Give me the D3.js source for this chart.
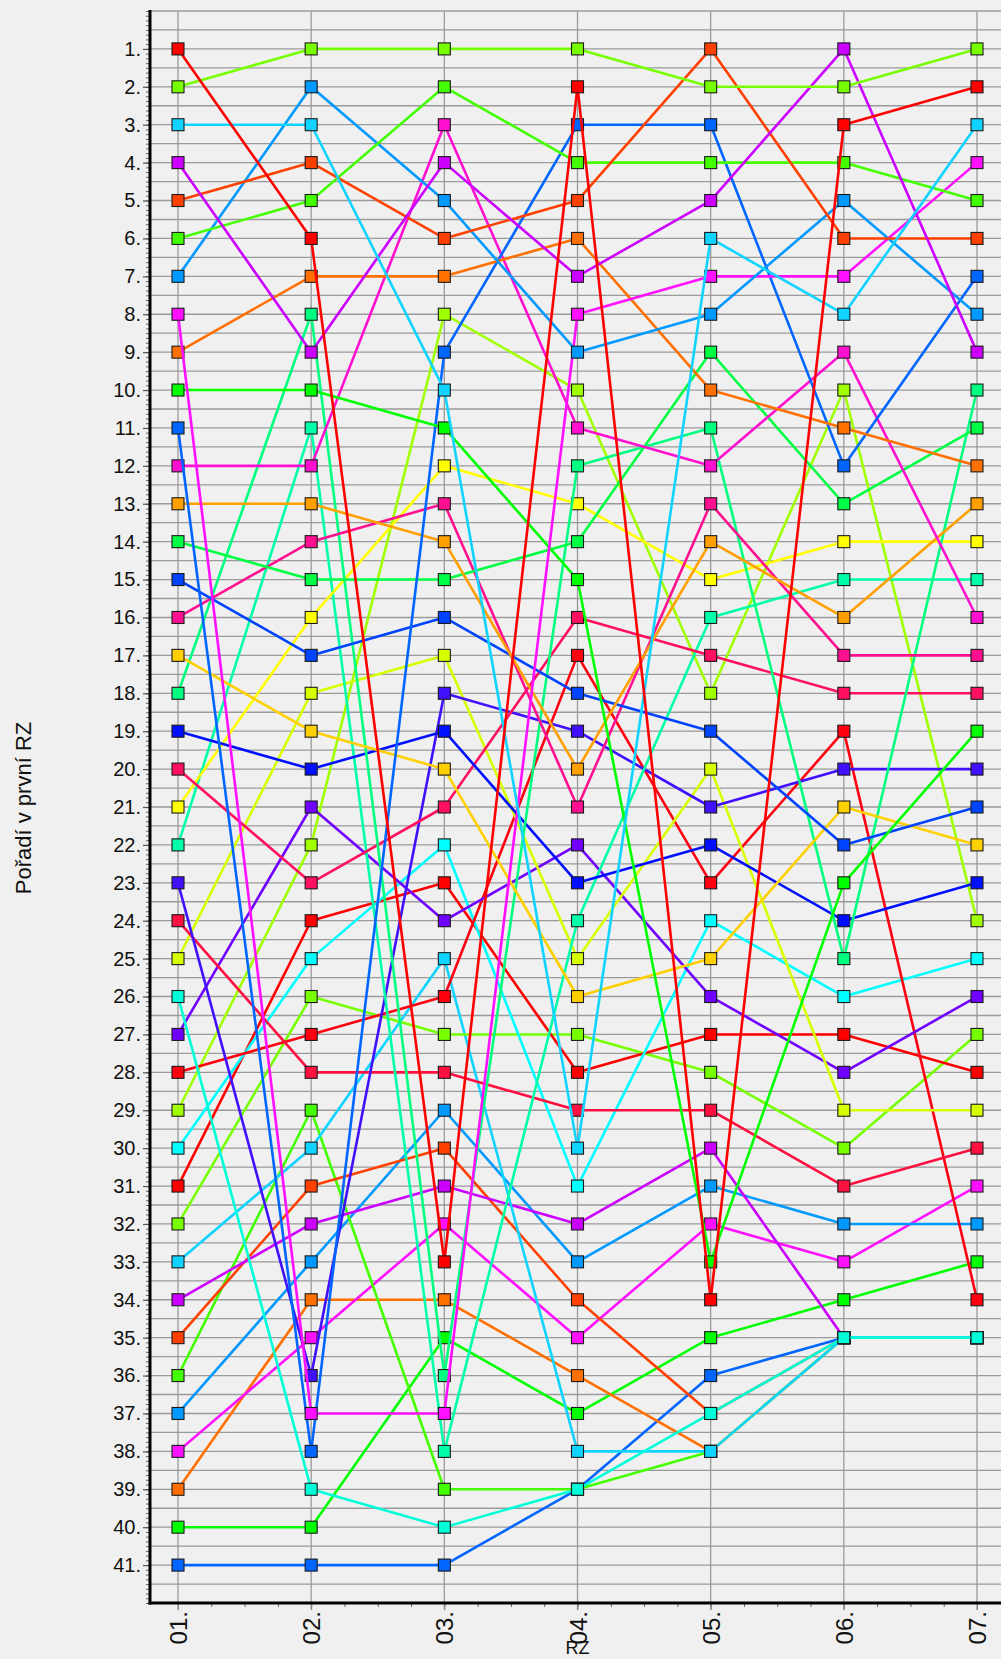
<!DOCTYPE html>
<html>
<head>
<meta charset="utf-8">
<script src="https://cdn.jsdelivr.net/npm/d3@7"></script>
<style>
  html, body { margin: 0; padding: 0; background: #f0f0f0; }
  svg { display: block; font-family: "Liberation Sans", Arial, sans-serif; }
</style>
</head>
<body>
<svg id="chart" width="1001" height="1659"></svg>
<script>
// ---- data ----
const stages = ["01.", "02.", "03.", "04.", "05.", "06.", "07."];
const rankLabels = d3.range(1, 42).map(d => d + ".");
// rank of each crew (ordered by position after first stage) after each stage
const rank01 = [1,2,3,4,5,6,7,8,9,10,11,12,13,14,15,16,17,18,19,20,21,22,23,24,25,26,27,28,29,30,31,32,33,34,35,36,37,38,39,40,41];
const rank02 = [6,1,3,9,4,5,2,37,7,10,38,12,13,15,17,14,19,8,20,23,16,11,36,28,18,39,21,27,22,25,24,26,30,32,31,29,33,35,34,40,41];
const rank03 = [33,1,10,4,6,2,5,37,7,11,9,3,14,15,16,13,20,36,19,21,12,38,18,28,17,40,24,26,8,22,23,27,25,31,30,39,29,32,34,35,41];
const rank04 = [2,1,30,7,5,4,9,8,6,15,3,11,20,14,18,21,26,12,23,16,13,24,19,29,25,39,22,17,10,31,28,27,38,32,34,39,33,35,36,37,39];
const rank05 = [34,2,6,5,1,4,8,7,10,33,3,12,14,9,19,13,25,11,22,17,15,16,21,29,20,37,26,23,18,24,27,28,38,30,37,38,31,32,38,35,36];
const rank06 = [3,2,8,1,6,4,5,7,11,23,12,9,16,13,22,17,21,25,24,18,14,15,20,31,29,35,28,19,10,26,27,30,35,35,35,35,32,33,35,34,35];
const rank07 = [2,1,3,9,6,5,8,4,12,19,7,16,13,11,21,17,22,10,23,18,14,15,20,30,29,35,26,34,24,25,28,27,35,35,35,35,32,31,35,33,35];
const stageRanks = [rank01, rank02, rank03, rank04, rank05, rank06, rank07];

// colour cycle (repeats every 30 crews)
const palette = ["#ff0000","#77ff00","#10d4ff","#cc00ff","#ff4000","#44ff00","#0099ff","#ff10ff","#ff7000","#00ff00",
                 "#0066ff","#ff10d0","#ffa000","#00ff44","#0044ff","#ff1090","#ffd000","#00ff80","#0010ff","#ff1060",
                 "#ffff00","#00ffa8","#4010ff","#ff1040","#d8ff00","#00ffd8","#7000ff","#ff0010","#a0ff00","#00ffff"];

// ---- chart ----
const svg = d3.select("#chart");
const W = 1001, H = 1659;
const plotLeft = 150, plotTop = 11, plotBottom = 1603;
const x = d3.scaleLinear().domain([1, 7]).range([178, 977]);
const y = d3.scaleLinear().domain([0, 42]).range([plotTop, plotBottom]);
const FONT = "'Liberation Sans', Arial, sans-serif";

svg.append("rect").attr("width", W).attr("height", H).attr("fill", "#f0f0f0");

// horizontal grid (every half rank)
const gridVals = d3.range(0, 42.01, 0.5).filter(v => v < 42);
svg.append("g").selectAll("line").data(gridVals).join("line")
  .attr("x1", plotLeft).attr("x2", W)
  .attr("y1", d => y(d)).attr("y2", d => y(d))
  .attr("stroke", "#9a9a9a").attr("stroke-width", 1.3);

// vertical grid at stages
svg.append("g").selectAll("line").data(d3.range(1, 8)).join("line")
  .attr("x1", d => x(d)).attr("x2", d => x(d))
  .attr("y1", y(0)).attr("y2", y(42) + 7)
  .attr("stroke", "#9a9a9a").attr("stroke-width", 1.3);

// y axis minor ticks
const yMinor = d3.axisLeft(y).tickValues(d3.range(0, 42.001, 0.125)).tickSize(4).tickFormat("");
const gyMinor = svg.append("g").attr("transform", `translate(${plotLeft},0)`).call(yMinor);
gyMinor.select(".domain").remove();
gyMinor.selectAll("line").attr("stroke", "#666").attr("stroke-width", 1);

// y axis major ticks + labels
const yAxis = d3.axisLeft(y).tickValues(d3.range(1, 42)).tickSize(7).tickPadding(2)
  .tickFormat(d => rankLabels[d - 1]);
const gy = svg.append("g").attr("transform", `translate(${plotLeft},0)`).call(yAxis);
gy.select(".domain").remove();
gy.selectAll("line").attr("stroke", "#555").attr("stroke-width", 1.2);
gy.selectAll("text").attr("font-size", 20).attr("fill", "#111").attr("font-family", FONT);

// x axis minor ticks
const xMinor = d3.axisBottom(x).tickValues(d3.range(1, 7.001, 0.25)).tickSize(4).tickFormat("");
const gxMinor = svg.append("g").attr("transform", `translate(0,${plotBottom})`).call(xMinor);
gxMinor.select(".domain").remove();
gxMinor.selectAll("line").attr("stroke", "#666");

// x axis labels
const xAxis = d3.axisBottom(x).tickValues(d3.range(1, 8)).tickSize(7)
  .tickFormat(d => stages[d - 1]);
const gx = svg.append("g").attr("transform", `translate(0,${plotBottom})`).call(xAxis);
gx.select(".domain").remove();
gx.selectAll("line").attr("stroke", "#888");
gx.selectAll("text")
  .attr("transform", "rotate(-90)")
  .attr("x", -8).attr("y", 0).attr("dy", "0.36em")
  .attr("text-anchor", "end")
  .attr("font-size", 24).attr("fill", "#111").attr("font-family", FONT);

// axis lines
svg.append("line").attr("x1", plotLeft).attr("x2", plotLeft).attr("y1", y(0) - 1).attr("y2", plotBottom + 1.5)
  .attr("stroke", "#000").attr("stroke-width", 3);
svg.append("line").attr("x1", plotLeft - 1.5).attr("x2", W).attr("y1", plotBottom).attr("y2", plotBottom)
  .attr("stroke", "#000").attr("stroke-width", 3);

// titles
svg.append("text")
  .attr("transform", `translate(25,${808}) rotate(-90)`)
  .attr("text-anchor", "middle").attr("dominant-baseline", "middle")
  .attr("font-size", 22).attr("fill", "#111").attr("font-family", FONT)
  .text("Pořadí v první RZ");
svg.append("text")
  .attr("x", x(4)).attr("y", 1654)
  .attr("text-anchor", "middle")
  .attr("font-size", 18).attr("fill", "#111").attr("font-family", FONT)
  .text("RZ");

// series (drawn from last to first, so earlier crews lie on top)
const nSeries = rank01.length;
const line = d3.line().x((d, j) => x(j + 1)).y(d => y(d));
const plot = svg.append("g");
for (let i = nSeries - 1; i >= 0; i--) {
  const vals = stageRanks.map(r => r[i]);
  const col = palette[i % palette.length];
  const g = plot.append("g");
  g.append("path").datum(vals).attr("d", line)
    .attr("fill", "none").attr("stroke", col).attr("stroke-width", 2.6)
    .attr("stroke-linejoin", "round");
  g.selectAll("rect").data(vals).join("rect")
    .attr("x", (d, j) => x(j + 1) - 6).attr("y", d => y(d) - 6)
    .attr("width", 12).attr("height", 12)
    .attr("fill", col).attr("stroke", "#1a1a1a").attr("stroke-width", 1.1);
}
</script>
</body>
</html>
